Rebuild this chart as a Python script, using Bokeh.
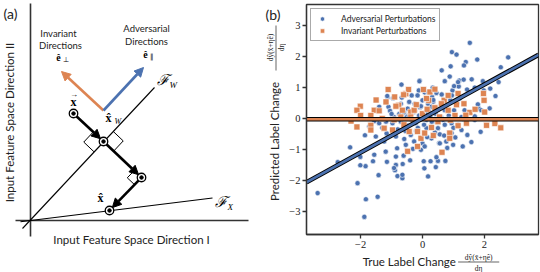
import numpy as np
from bokeh.plotting import figure
from bokeh.layouts import row, column
from bokeh.models import Range1d, Arrow, NormalHead, FixedTicker, Legend, LegendItem
from bokeh.core.properties import value
from bokeh.embed import file_html
from bokeh.resources import INLINE

BLUE = "#4C72B0"
ORANGE = "#DD8452"
SANS = "Lato"
SERIF = "Liberation Serif"
INK = "#222222"

# ---------------- panel (b) data ----------------
adv_x = [1.53, 0.95, 1.10, 1.77, 2.77, 1.40, 0.91, 0.62, 2.53, -0.09, 0.88, -0.68, 0.72, 1.19, 1.33, 1.59, 2.46, 0.33,
         1.98, 2.19, 0.97, 1.17, 0.07, 0.45, 0.62, 2.36, -1.13, -0.35, -0.12, -1.10, -1.40, 1.82, 2.17, 1.88, -1.86, -1.16,
         -3.39, -2.74, -2.34, -2.10, -1.83, -1.88, -1.45, -1.42, -1.84, -2.01, -1.60, -1.15, -0.86, -0.89, -0.81, -0.65,
         -0.64, -0.82, -1.19, -0.31, 0.04, 0.06, 0.18, 0.26, 0.43, 0.50, 0.74, 0.99, 1.58, 0.54, -2.01,
         -0.10, -1.14, -0.95, -0.67, -0.70, -0.43, -0.25, -0.16, 0.00, -1.05, -0.48, -0.08, -0.92, -0.51, -0.11,
         1.34, 1.15, 1.02, 0.31, 0.18, 1.44, 1.69, 1.95, 1.79, 0.18, 0.29, 0.50, 0.72, 1.02, 1.13, 1.36, 1.90, 0.42,
         1.26, 1.69,
         -1.56, -1.40, -1.18, -0.97, -0.70, -0.48, -0.22, -1.72, -1.51, -1.24, -0.86, -0.59, -0.38, -0.27, 0.00, -0.05,
         -0.54, -1.56, -0.86, -0.61, -0.92, -0.65,
         0.13, 0.45, 0.66, 0.94, 1.36, 1.69, 0.13, 0.29, 0.50, 0.72, 1.15, 1.26, 0.56, 0.94, 1.45, 0.29, 1.06, 0.56,
         0.77, 0.07, 0.45,
         -0.30, 0.20, -0.20, 0.30, 0.90, 0.60, -0.75, 0.35,
         -0.60, -0.35, 0.10, 0.25, 0.60, 0.85, -0.15, -0.80, 0.40, -0.45, 0.05, 0.70, 1.00, -1.00, -0.25, 0.95,
         -0.55, 0.35, 1.20, -1.30, 0.15, -0.05, 0.80, -0.40, 1.30]
adv_y = [2.45, 2.15, 2.07, 1.91, 1.98, 1.83, 1.69, 1.56, 1.66, 1.23, 1.36, 1.10, 1.21, 1.23, 1.26, 1.27, 1.18, 1.00,
         0.91, 0.97, 0.91, 1.04, 0.85, 0.83, 0.78, 0.73, 0.69, 0.75, 0.91, 0.38, 0.38, 0.33, 0.33, -0.43, -0.54, -0.48,
         -2.41, -1.41, -0.93, -2.09, -2.61, -3.18, -2.53, -1.83, -1.54, -1.24, -1.38, -1.40, -1.50, -1.67, -1.86, -1.93,
         -1.47, -0.96, -1.07, -0.98, -1.38, -1.61, -1.87, -1.38, -1.57, -1.37, -1.37, -0.85, -0.76, -0.79, -1.51,
         1.21, 0.73, 0.66, 0.68, 0.48, 0.54, 0.48, 0.75, 0.59, 0.25, 0.32, 0.37, 0.05, 0.07, 0.10,
         1.72, 1.18, 1.05, 0.70, 0.86, 0.94, 1.00, 1.21, 0.46, 0.48, 0.38, 0.32, 0.27, 0.27, 0.50, 0.27, 0.27, 0.16,
         0.05, 0.07,
         -0.08, -0.15, -0.10, -0.15, -0.10, -0.23, -0.15, -0.26, -0.58, -0.74, -0.58, -0.66, -0.53, -0.74, -0.80, -1.01,
         -0.85, -1.17, -1.23, -1.20, -1.60, -1.82,
         -0.04, -0.10, -0.04, -0.15, -0.04, -0.04, -0.31, -0.26, -0.31, -0.20, -0.20, -0.37, -0.51, -0.47, -0.53, -0.64,
         -0.61, -0.80, -0.74, -0.90, -1.25,
         0.20, 0.25, -0.40, -0.10, 0.60, 0.05, 0.15, 0.55,
         0.20, -0.05, 0.20, 0.05, 0.45, 0.10, -0.30, -0.35, -0.45, 0.10, -0.20, -0.55, -0.30, 0.15, 0.25, 0.75,
         -0.40, 0.60, 0.65, -0.30, -0.60, 0.40, -0.95, -1.35, -0.90]

inv_x = [-1.11, -2.01, -2.12, -1.18, -0.77, -0.54, 0.03, 0.20, 0.70, 0.83, 1.53, 1.99, 1.97, 1.40, -2.31, -2.12,
         -1.67, 2.07, 2.34, 2.53, -0.48, 0.63, -2.00,
         -0.45, -0.61, -0.86, -1.56, -1.40, -0.65, -0.38, -0.27, -0.70, -0.38, 0.00, -1.67,
         0.24, 0.83, 1.15, 1.34, 0.13, 2.01, 0.61,
         -1.67, -1.24, -0.97, -0.16, -0.92, -0.43, -0.16, -0.05,
         0.29, 0.88, 1.15, 0.88, 0.07, 0.50, 1.42,
         -0.20, 0.40, -0.90, 0.55, 1.05, -1.30, 0.35, -0.60, 1.70, 1.10, 0.90, -0.30, 0.40, -1.50, 0.15]
inv_y = [0.94, 0.40, 0.27, 0.54, 0.43, 0.80, 0.94, 0.59, 0.59, 0.27, 0.20, 0.59, 0.81, 0.11, -0.08, -0.27,
         -0.22, -0.22, -0.16, -0.30, -1.06, -1.09, 0.10,
         0.94, 0.77, 0.40, 0.27, 0.25, 0.27, 0.21, 0.27, 0.05, 0.05, 0.16, 0.10,
         0.86, 0.75, 0.81, 0.48, 0.65, 0.21, 0.48,
         -0.37, -0.31, -0.37, -0.90, -0.04, -0.42, -0.42, -0.64,
         -0.29, -0.47, -0.23, -0.64, -0.47, -0.10, -0.15,
         0.45, 0.35, 0.70, 0.05, 0.10, 0.00, -0.55, -0.20, 0.30, 0.45, -0.05, -0.05, 0.95, 0.60, 0.30]

adv_fit = (0.55, 0.0)      # slope, intercept
inv_fit = (0.0, -0.02)
x_lim = [-3.75, 3.75]
y_lim = [-3.75, 3.69]
x_ticks = [-2, 0, 2]
x_tick_labels = ["\u22122", "0", "2"]
y_ticks = [-3, -2, -1, 0, 1, 2, 3]
y_tick_labels = ["\u22123", "\u22122", "\u22121", "0", "1", "2", "3"]
legend_labels = ["Adversarial Perturbations", "Invariant Perturbations"]

# ---------------- panel (a) geometry (diagram coordinates) ----------------
axis_v = ([30, 30], [3, 236])
axis_h = ([15, 248], [220, 220])
fw_line = ([22, 154], [228, 87])
fx_line = ([20, 212], [221.2, 197.5])
pt_x = (73, 113)
pt_xw = (103, 141)
pt_p = (141, 177)
pt_xhat = (109, 210)
arrow_origin = (103, 110)
arrow_inv_tip = (61, 71)
arrow_adv_tip = (143, 67)

W, H = 540, 272
SPLIT = 264          # left panel width
FRAME_L = 306        # left edge of panel (b) frame

# ================= panel (a) =================
pa = figure(width=SPLIT, height=H, x_range=Range1d(0, SPLIT), y_range=Range1d(H, 0),
            output_backend="svg", toolbar_location=None, x_axis_location=None, y_axis_location=None,
            min_border=0)
pa.grid.visible = False
pa.outline_line_color = None

pa.line(*axis_v, line_color="#333333", line_width=1.6)
pa.line(*axis_h, line_color="#333333", line_width=1.6)
pa.line(*fw_line, line_color="black", line_width=1.1)
pa.line(*fx_line, line_color="black", line_width=1.1)


def unit(a, b):
    d = np.array(b, float) - np.array(a, float)
    return d / np.linalg.norm(d)


def add_arrow(p, a, b, color, w=2.6, s0=0.0, s1=0.0, head=9):
    u = unit(a, b)
    s = np.array(a, float) + s0 * u
    e = np.array(b, float) - s1 * u
    p.add_layout(Arrow(x_start=s[0], y_start=s[1], x_end=e[0], y_end=e[1], line_color=color, line_width=w,
                       end=NormalHead(size=head, fill_color=color, line_color=color, line_width=1)))


add_arrow(pa, arrow_origin, arrow_inv_tip, ORANGE)
add_arrow(pa, arrow_origin, arrow_adv_tip, BLUE)
add_arrow(pa, pt_x, pt_xw, "black", s0=4, s1=4)
add_arrow(pa, pt_xw, pt_p, "black", s0=4, s1=4)
add_arrow(pa, pt_p, pt_xhat, "black", s0=4, s1=4)

# right-angle markers
s = 14
fw_dir = unit((fw_line[0][0], fw_line[1][0]), (fw_line[0][1], fw_line[1][1]))
perp = unit(pt_xw, pt_p)
c = np.array(pt_xw, float)
m1 = [c - s * fw_dir, c - s * fw_dir - s * perp, c - s * perp]
m2 = [c + s * fw_dir, c + s * fw_dir + s * perp, c + s * perp]
cp = np.array(pt_p, float)
d_back = unit(pt_p, pt_xw)
d_out = unit(pt_p, pt_xhat)
m3 = [cp + 10 * d_back, cp + 10 * d_back + 10 * d_out, cp + 10 * d_out]
pa.multi_line([[q[0] for q in m] for m in (m1, m2, m3)], [[q[1] for q in m] for m in (m1, m2, m3)],
              line_color="black", line_width=1.0)

pts = [pt_x, pt_xw, pt_p, pt_xhat]
pa.scatter([q[0] for q in pts], [q[1] for q in pts], marker="circle", size=8.5, fill_color="white",
           line_color="black", line_width=1.3, level="overlay")
pa.scatter([q[0] for q in pts], [q[1] for q in pts], marker="circle", size=3.5, fill_color="black",
           line_color="black", level="overlay")

# texts
pa.text([3], [13], text=["(a)"], text_font=value(SANS), text_font_size="14px", text_align="left",
        text_baseline="middle", text_color=INK)
pa.text([9], [122], text=["Input Feature Space Direction II"], angle=np.pi / 2, text_font=value(SANS),
        text_font_size="11.5px", text_align="center", text_baseline="middle", text_color=INK)
pa.text([131], [239], text=["Input Feature Space Direction I"], text_font=value(SANS),
        text_font_size="11.5px", text_align="center", text_baseline="middle", text_color=INK)
pa.text([58, 60, 146, 146], [33, 45, 28, 41], text=["Invariant", "Directions", "Adversarial", "Directions"],
        text_font=value(SANS), text_font_size="9.5px", text_align="center", text_baseline="middle",
        text_color=INK)
pa.text([58, 145], [57, 54], text=["\u00ea", "\u00ea"], text_font=value(SERIF), text_font_size="10px",
        text_align="center", text_baseline="middle", text_font_style="bold")
pa.text([62.5, 149.5], [59, 56], text=["\u22a5", "\u2225"], text_font=value(SERIF), text_font_size="6.5px",
        text_align="left", text_baseline="middle")
pa.text([73, 108, 100], [101, 117, 197], text=["x", "x\u0302", "x\u0302"], text_font=value(SERIF),
        text_font_size="12px", text_align="center", text_baseline="middle", text_font_style="bold")
pa.text([73.5], [93.5], text=["\u2192"], text_font=value(SERIF), text_font_size="8px", text_align="center",
        text_baseline="middle")
pa.text([114], [121], text=["W"], text_font=value(SERIF), text_font_size="8px", text_align="left",
        text_baseline="middle", text_font_style="italic")
pa.text([162, 220], [79, 201], text=["\u2131", "\u2131"], text_font=value(SERIF), text_font_size="15px",
        text_align="center", text_baseline="middle", text_font_style="italic")
pa.text([169, 227], [84, 206], text=["W", "X"], text_font=value(SERIF), text_font_size="9px",
        text_align="left", text_baseline="middle", text_font_style="italic")

# ================= strip holding the y-axis label of panel (b) =================
YS_W = 22
ys = figure(width=YS_W, height=H, x_range=Range1d(SPLIT, SPLIT + YS_W), y_range=Range1d(H, 0),
            output_backend="svg", toolbar_location=None, x_axis_location=None, y_axis_location=None,
            min_border=0)
ys.grid.visible = False
ys.outline_line_color = None
ys.text([265], [14], text=["(b)"], text_font=value(SANS), text_font_size="14px", text_align="left",
        text_baseline="middle", text_color=INK)
ys.text([274], [141], text=["Predicted Label Change"], angle=np.pi / 2, text_font=value(SANS),
        text_font_size="11.5px", text_align="center", text_baseline="middle", text_color=INK)
ys.text([269.5, 281], [47, 47], text=["d\u0177(x\u0304+\u03b7\u00ea)", "d\u03b7"], angle=np.pi / 2,
        text_font=value(SERIF), text_font_size="7.5px", text_align="center", text_baseline="middle",
        text_color=INK)
ys.line([275.5, 275.5], [25, 70], line_color=INK, line_width=0.7)

# ================= panel (b) =================
PB_W = W - SPLIT - YS_W
PB_H = 252
pb = figure(width=PB_W, height=PB_H, x_range=Range1d(*x_lim), y_range=Range1d(*y_lim),
            output_backend="svg", toolbar_location=None,
            min_border_left=FRAME_L - SPLIT - YS_W, min_border_right=2, min_border_top=4, min_border_bottom=18)
pb.grid.visible = False
pb.outline_line_color = "#333333"
pb.outline_line_width = 1.3
for ax in (pb.xaxis[0], pb.yaxis[0]):
    ax.axis_line_color = "#333333"
    ax.axis_line_width = 1.3
    ax.major_tick_line_color = "#333333"
    ax.major_tick_line_width = 1.3
    ax.major_tick_out = 4
    ax.major_tick_in = 0
    ax.minor_tick_line_color = None
    ax.major_label_text_font = SERIF
    ax.major_label_text_font_size = "10.5px"
    ax.major_label_text_color = INK
    ax.major_label_standoff = 2
pb.xaxis.ticker = FixedTicker(ticks=x_ticks)
pb.yaxis.ticker = FixedTicker(ticks=y_ticks)
pb.xaxis.major_label_overrides = dict(zip(x_ticks, x_tick_labels))
pb.yaxis.major_label_overrides = dict(zip(y_ticks, y_tick_labels))

r_adv = pb.scatter(adv_x, adv_y, marker="circle", size=5.2, fill_color=BLUE, line_color="white", line_width=0.6)
r_inv = pb.scatter(inv_x, inv_y, marker="square", size=6.0, fill_color=ORANGE, line_color="white", line_width=0.6)

for (m, b0), col in ((inv_fit, ORANGE), (adv_fit, BLUE)):
    yv = [m * x + b0 for x in x_lim]
    pb.line(x_lim, yv, line_color="black", line_width=4.6)
    pb.line(x_lim, yv, line_color=col, line_width=2.6)

legend = Legend(items=[LegendItem(label=legend_labels[0], renderers=[r_adv]),
                       LegendItem(label=legend_labels[1], renderers=[r_inv])],
                location="top_left")
legend.label_text_font = SANS
legend.label_text_font_size = "8.5px"
legend.label_text_color = INK
legend.border_line_color = "#555555"
legend.border_line_width = 1
legend.padding = 4
legend.spacing = 1
legend.margin = 4
legend.glyph_height = 11
legend.glyph_width = 14
legend.label_standoff = 12
legend.label_height = 11
pb.add_layout(legend)

# ================= strip holding the x-axis label of panel (b) =================
xs = figure(width=PB_W, height=H - PB_H, x_range=Range1d(SPLIT + YS_W, W), y_range=Range1d(H, PB_H),
            output_backend="svg", toolbar_location=None, x_axis_location=None, y_axis_location=None,
            min_border=0)
xs.grid.visible = False
xs.outline_line_color = None
xs.text([398.5], [261], text=["True Label Change"], text_font=value(SANS), text_font_size="11.5px",
        text_align="center", text_baseline="middle", text_color=INK)
xs.text([474.5, 474.5], [256.5, 267.5], text=["d\u0177(x\u0304+\u03b7\u00ea)", "d\u03b7"],
        text_font=value(SERIF), text_font_size="7.5px", text_align="center", text_baseline="middle",
        text_color=INK)
xs.line([452, 497], [261.5, 261.5], line_color=INK, line_width=0.7)

layout = row(pa, ys, column(pb, xs))
open("out.html", "w").write(file_html(layout, INLINE))
